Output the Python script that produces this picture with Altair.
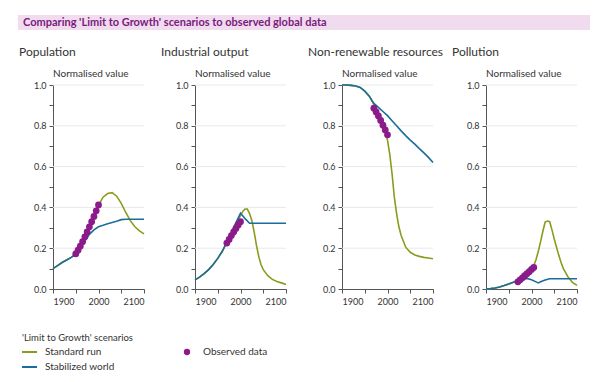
import altair as alt
import pandas as pd

# ---------------- data ----------------
title_text = "Comparing 'Limit to Growth' scenarios to observed global data"
panel_titles = ["Population", "Industrial output", "Non-renewable resources", "Pollution"]
y_label = "Normalised value"
legend_heading = "'Limit to Growth' scenarios"
legend_lines = ["Standard run", "Stabilized world"]
legend_points = ["Observed data"]

x_tick_values = [1900, 1950, 2000, 2050, 2100]
y_tick_values = [0.0, 0.1, 0.2, 0.3, 0.4, 0.5, 0.6, 0.7, 0.8, 0.9, 1.0]
grid_values = [0.2, 0.4, 0.6, 0.8, 1.0]

decades = [1900, 1910, 1920, 1930, 1940, 1950, 1960, 1970, 1980, 1990, 2000,
           2010, 2020, 2030, 2040, 2050, 2060, 2070, 2080, 2090, 2100]

# Population
pop_std_years = decades
pop_std = [0.100, 0.115, 0.130, 0.142, 0.155, 0.170, 0.200, 0.245, 0.295, 0.350, 0.410,
           0.450, 0.468, 0.472, 0.455, 0.420, 0.375, 0.335, 0.305, 0.285, 0.270]
pop_stab_years = decades
pop_stab = [0.100, 0.115, 0.130, 0.142, 0.155, 0.170, 0.200, 0.235, 0.268, 0.290, 0.305,
            0.312, 0.320, 0.326, 0.332, 0.340, 0.342, 0.342, 0.342, 0.342, 0.342]
pop_obs_years = [1950, 1955, 1960, 1965, 1970, 1975, 1980, 1985, 1990, 1995, 2000]
pop_obs = [0.172, 0.190, 0.210, 0.232, 0.256, 0.280, 0.305, 0.330, 0.356, 0.383, 0.412]

# Industrial output
ind_std_years = [1900, 1910, 1920, 1930, 1940, 1950, 1960, 1970, 1980, 1990, 2000, 2005,
                 2010, 2015, 2020, 2025, 2030, 2035, 2040, 2045, 2050, 2060, 2070, 2080,
                 2090, 2100]
ind_std = [0.045, 0.058, 0.075, 0.095, 0.120, 0.150, 0.185, 0.230, 0.275, 0.322, 0.360, 0.380,
           0.392, 0.392, 0.370, 0.335, 0.280, 0.215, 0.160, 0.120, 0.095, 0.065, 0.047, 0.037,
           0.030, 0.022]
ind_stab_years = decades
ind_stab = [0.045, 0.058, 0.075, 0.095, 0.120, 0.150, 0.185, 0.230, 0.275, 0.325, 0.372,
            0.345, 0.322, 0.322, 0.322, 0.322, 0.322, 0.322, 0.322, 0.322, 0.322]
ind_obs_years = [1970, 1975, 1980, 1985, 1990, 1995, 2000]
ind_obs = [0.225, 0.243, 0.262, 0.280, 0.297, 0.314, 0.330]

# Non-renewable resources
nr_std_years = [1900, 1910, 1920, 1930, 1940, 1950, 1960, 1970, 1980, 1990, 2000, 2005,
                2010, 2015, 2020, 2025, 2030, 2040, 2050, 2060, 2070, 2080, 2090, 2100]
nr_std = [1.000, 1.000, 0.998, 0.995, 0.988, 0.970, 0.945, 0.905, 0.865, 0.815, 0.730, 0.660,
          0.565, 0.450, 0.370, 0.305, 0.262, 0.205, 0.180, 0.167, 0.160, 0.155, 0.152, 0.148]
nr_stab_years = decades
nr_stab = [1.000, 1.000, 0.998, 0.995, 0.988, 0.970, 0.945, 0.910, 0.890, 0.870, 0.850,
           0.825, 0.800, 0.775, 0.752, 0.730, 0.710, 0.688, 0.667, 0.645, 0.620]
nr_obs_years = [1970, 1975, 1980, 1985, 1990, 1995, 2000]
nr_obs = [0.886, 0.868, 0.848, 0.826, 0.803, 0.780, 0.756]

# Pollution
pol_std_years = [1900, 1910, 1920, 1930, 1940, 1950, 1960, 1970, 1980, 1990, 2000, 2005,
                 2010, 2015, 2020, 2025, 2030, 2035, 2040, 2045, 2050, 2055, 2060, 2065,
                 2070, 2075, 2080, 2090, 2100]
pol_std = [0.000, 0.002, 0.005, 0.010, 0.017, 0.025, 0.033, 0.042, 0.058, 0.078, 0.100, 0.115,
           0.145, 0.185, 0.232, 0.283, 0.328, 0.333, 0.330, 0.290, 0.245, 0.205, 0.165, 0.130,
           0.100, 0.080, 0.060, 0.032, 0.018]
pol_stab_years = [1900, 1910, 1920, 1930, 1940, 1950, 1960, 1970, 1980, 1990, 2000, 2010,
                  2015, 2020, 2030, 2040, 2050, 2060, 2070, 2080, 2090, 2100]
pol_stab = [0.000, 0.002, 0.005, 0.010, 0.017, 0.025, 0.033, 0.042, 0.050, 0.052, 0.045, 0.035,
            0.030, 0.035, 0.044, 0.050, 0.050, 0.050, 0.050, 0.050, 0.050, 0.050]
pol_obs_years = [1970, 1975, 1980, 1985, 1990, 1995, 2000, 2005]
pol_obs = [0.035, 0.045, 0.055, 0.065, 0.075, 0.085, 0.096, 0.106]

# ---------------- styling ----------------
FONT = "Lato"
OLIVE = "#8c9b1e"
BLUE = "#1b6d9b"
PURPLE = "#8b1a8b"
TITLE_C = "#7a1a7d"
BAND = "#f0dcee"
TEXT_C = "#333333"
GRID_C = "#e8e8e8"
AXIS_C = "#555555"

PW = 91                       # plot width of each panel
PH = 204                      # plot height
panel_x0 = [45, 187, 334, 478]


def panel(x0, std_y, std_v, stab_y, stab_v, obs_y, obs_v):
    xs = alt.Scale(domain=[1900, 2100], range=[x0, x0 + PW], nice=False, zero=False)
    ys = alt.Scale(domain=[0, 1], nice=False, zero=False)
    xax = alt.Axis(orient="bottom", values=x_tick_values, format="d",
                   labelExpr="datum.value % 100 === 0 ? datum.label : ''",
                   grid=False, title=None, labelPadding=4)
    yax = alt.Axis(orient="left", offset=-x0, values=y_tick_values, format=".1f",
                   labelExpr="round(datum.value * 10) % 2 === 0 ? datum.label : ''",
                   grid=False, title=None, labelPadding=3)

    grid = alt.Chart(pd.DataFrame({"g": grid_values})).mark_rule(
        color=GRID_C, strokeWidth=1
    ).encode(
        y=alt.Y("g:Q", scale=ys, axis=yax),
        x=alt.value(x0), x2=alt.value(x0 + PW),
    )
    std = alt.Chart(pd.DataFrame({"year": std_y, "v": std_v})).mark_line(
        color=OLIVE, strokeWidth=1.6
    ).encode(x=alt.X("year:Q", scale=xs, axis=xax), y=alt.Y("v:Q", scale=ys, axis=yax))
    stab = alt.Chart(pd.DataFrame({"year": stab_y, "v": stab_v})).mark_line(
        color=BLUE, strokeWidth=1.6
    ).encode(x=alt.X("year:Q", scale=xs, axis=xax), y=alt.Y("v:Q", scale=ys, axis=yax))
    obs = alt.Chart(pd.DataFrame({"year": obs_y, "v": obs_v})).mark_circle(
        color=PURPLE, size=46, opacity=1
    ).encode(x=alt.X("year:Q", scale=xs, axis=xax), y=alt.Y("v:Q", scale=ys, axis=yax))
    return alt.layer(grid, std, stab, obs)


panels = [
    panel(panel_x0[0], pop_std_years, pop_std, pop_stab_years, pop_stab, pop_obs_years, pop_obs),
    panel(panel_x0[1], ind_std_years, ind_std, ind_stab_years, ind_stab, ind_obs_years, ind_obs),
    panel(panel_x0[2], nr_std_years, nr_std, nr_stab_years, nr_stab, nr_obs_years, nr_obs),
    panel(panel_x0[3], pol_std_years, pol_std, pol_stab_years, pol_stab, pol_obs_years, pol_obs),
]


def text_layer(txt, x, y, size, color=TEXT_C, weight="normal"):
    return alt.Chart(pd.DataFrame({"t": [txt]})).mark_text(
        align="left", baseline="middle", font=FONT, fontSize=size,
        fontWeight=weight, color=color
    ).encode(text="t:N", x=alt.value(x), y=alt.value(y))


decor = []
# title band
decor.append(
    alt.Chart(pd.DataFrame({"t": [title_text]})).mark_rect(color=BAND).encode(
        x=alt.value(10), x2=alt.value(582), y=alt.value(-70), y2=alt.value(-55)
    )
)
decor.append(text_layer(title_text, 15, -62.5, 11, TITLE_C, "bold"))

for t, x0 in zip(panel_titles, panel_x0):
    decor.append(text_layer(t, x0 - 34, -33, 12))
    decor.append(text_layer(y_label, x0, -11.5, 10))

# legend
decor.append(text_layer(legend_heading, 14, 253, 9.5))
for lab, col, yy in zip(legend_lines, [OLIVE, BLUE], [267, 282]):
    decor.append(
        alt.Chart(pd.DataFrame({"t": [lab]})).mark_rule(color=col, strokeWidth=2).encode(
            x=alt.value(14), x2=alt.value(29), y=alt.value(yy)
        )
    )
    decor.append(text_layer(lab, 37, yy, 10))
decor.append(
    alt.Chart(pd.DataFrame({"t": legend_points})).mark_circle(
        color=PURPLE, size=40, opacity=1
    ).encode(x=alt.value(179), y=alt.value(267))
)
decor.append(text_layer(legend_points[0], 195, 267, 10))

chart = alt.layer(*panels, *decor).resolve_scale(
    x="independent", y="independent"
).properties(
    width=584, height=PH,
    autosize=alt.AutoSizeParams(type="none"),
    padding={"left": 0, "top": 77, "right": 0, "bottom": 85},
    background="white",
).configure_view(
    stroke=None
).configure_axis(
    domainColor=AXIS_C, domainWidth=1, tickColor=AXIS_C, tickWidth=1, tickSize=4,
    labelColor=TEXT_C, labelFont=FONT, labelFontSize=9,
)

chart.save("out.html", embed_options={"renderer": "svg", "actions": False})
